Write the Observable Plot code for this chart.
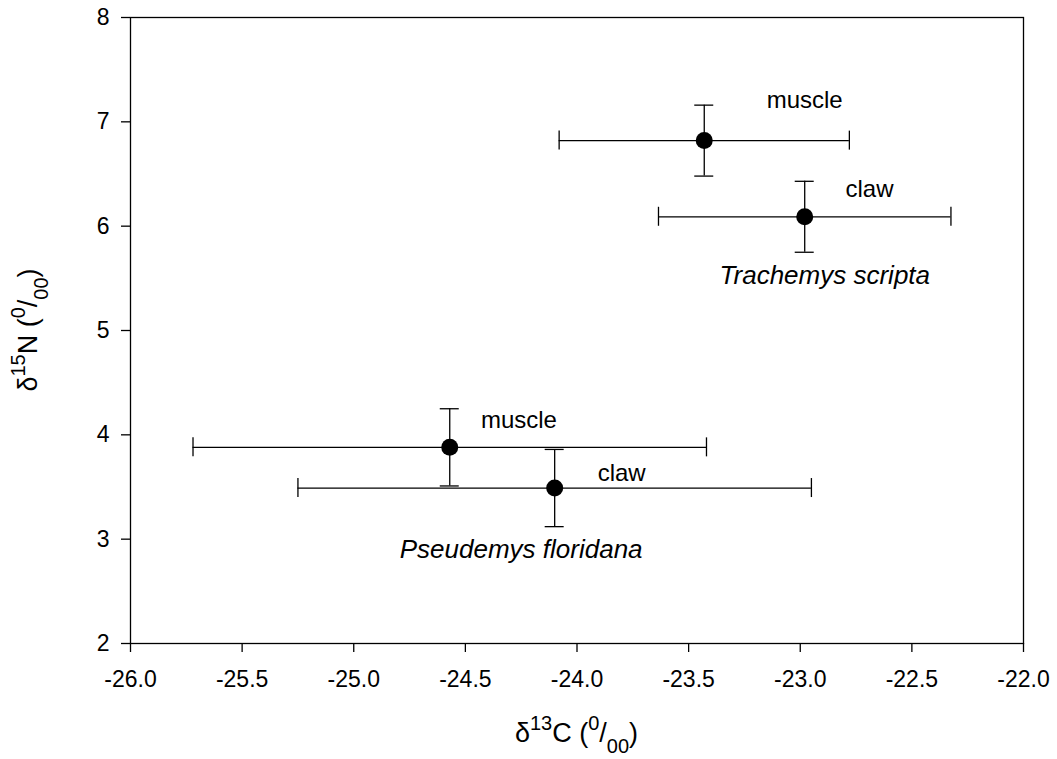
<!DOCTYPE html>
<html><head><meta charset="utf-8">
<script src="https://cdn.jsdelivr.net/npm/d3@7"></script>
<script src="https://cdn.jsdelivr.net/npm/@observablehq/plot@0.6"></script>
<style>body{margin:0;background:#fff} #chart{width:1057px;height:759px}</style>
</head><body><div id="chart"></div>
<script>
// ---- data ----
const species = ["Trachemys scripta", "Trachemys scripta", "Pseudemys floridana", "Pseudemys floridana"];
const tissue = ["muscle", "claw", "muscle", "claw"];
const d13C = [-23.43, -22.98, -24.57, -24.10];
const d13Cerr = [0.65, 0.655, 1.15, 1.15];
const d15N = [6.82, 6.09, 3.88, 3.49];
const d15Nerr = [0.34, 0.34, 0.37, 0.37];
const xTicks = [-26.0, -25.5, -25.0, -24.5, -24.0, -23.5, -23.0, -22.5, -22.0];
const yTicks = [2, 3, 4, 5, 6, 7, 8];
// annotation labels (anchored in data units)
const labelText = ["muscle", "claw", "Trachemys scripta", "muscle", "claw", "Pseudemys floridana"];
const labelKind = ["tissue", "tissue", "species", "tissue", "tissue", "species"];
const labelC = [-22.98, -22.69, -22.89, -24.26, -23.80, -24.25];
const labelN = [7.13, 6.28, 5.45, 4.07, 3.56, 2.82];

const data = species.map((s, i) => ({species: s, tissue: tissue[i], x: d13C[i], xe: d13Cerr[i], y: d15N[i], ye: d15Nerr[i]}));
const labels = labelText.map((t, i) => ({text: t, kind: labelKind[i], x: labelC[i], y: labelN[i]}));

const FONT = "'Liberation Sans', Arial, Helvetica, sans-serif";
const SW = 1.3;

const chart = Plot.plot({
  width: 1057, height: 759,
  marginLeft: 130, marginRight: 34, marginTop: 17, marginBottom: 116,
  style: {fontFamily: FONT, fontSize: "23px", color: "#000", background: "#fff"},
  x: {domain: [-26, -22]},
  y: {domain: [2, 8]},
  marks: [
    Plot.frame({stroke: "#000", strokeWidth: SW}),
    Plot.axisX({ticks: xTicks, tickFormat: d => d.toFixed(1), tickSize: 9, tickPadding: 18, strokeWidth: SW, label: null, fontSize: 23}),
    Plot.axisY({ticks: yTicks, tickFormat: d => String(d), tickSize: 9, tickPadding: 12, strokeWidth: SW, label: null, fontSize: 23}),
    // horizontal error bars
    Plot.ruleY(data, {y: "y", x1: d => d.x - d.xe, x2: d => d.x + d.xe, stroke: "#000", strokeWidth: SW}),
    Plot.ruleX(data, {x: d => d.x - d.xe, y1: "y", y2: "y", insetTop: -9.5, insetBottom: -9.5, stroke: "#000", strokeWidth: SW}),
    Plot.ruleX(data, {x: d => d.x + d.xe, y1: "y", y2: "y", insetTop: -9.5, insetBottom: -9.5, stroke: "#000", strokeWidth: SW}),
    // vertical error bars
    Plot.ruleX(data, {x: "x", y1: d => d.y - d.ye, y2: d => d.y + d.ye, stroke: "#000", strokeWidth: SW}),
    Plot.ruleY(data, {y: d => d.y - d.ye, x1: "x", x2: "x", insetLeft: -9.5, insetRight: -9.5, stroke: "#000", strokeWidth: SW}),
    Plot.ruleY(data, {y: d => d.y + d.ye, x1: "x", x2: "x", insetLeft: -9.5, insetRight: -9.5, stroke: "#000", strokeWidth: SW}),
    Plot.dot(data, {x: "x", y: "y", r: 8.5, fill: "#000", stroke: "none"}),
    Plot.text(labels.filter(d => d.kind === "tissue"), {x: "x", y: "y", text: "text", lineAnchor: "bottom", textAnchor: "middle", fontSize: 24, fill: "#000"}),
    Plot.text(labels.filter(d => d.kind === "species"), {x: "x", y: "y", text: "text", lineAnchor: "bottom", textAnchor: "middle", fontSize: 26, fontStyle: "italic", fill: "#000"})
  ]
});

// axis titles with superscripts/subscripts
const svg = d3.select(chart);
function addTitle(g, parts) {
  parts.forEach(([t, size, dy]) => g.append("tspan").attr("font-size", size).attr("dy", dy).text(t));
}
const big = 27, small = 20;
const xt = svg.append("text")
  .attr("x", 576.5).attr("y", 742)
  .attr("text-anchor", "middle").attr("font-family", FONT).attr("fill", "#000").attr("font-size", big);
addTitle(xt, [["δ", big, 0], ["13", small, -12], ["C (", big, 12], ["0", small, -12], ["/", big, 12], ["00", small, 11], [")", big, -11]]);

const yt = svg.append("text")
  .attr("transform", "translate(37,330) rotate(-90)")
  .attr("text-anchor", "middle").attr("font-family", FONT).attr("fill", "#000").attr("font-size", big);
addTitle(yt, [["δ", big, 0], ["15", small, -12], ["N (", big, 12], ["0", small, -12], ["/", big, 12], ["00", small, 11], [")", big, -11]]);

document.getElementById("chart").appendChild(chart);
</script>
</body></html>
